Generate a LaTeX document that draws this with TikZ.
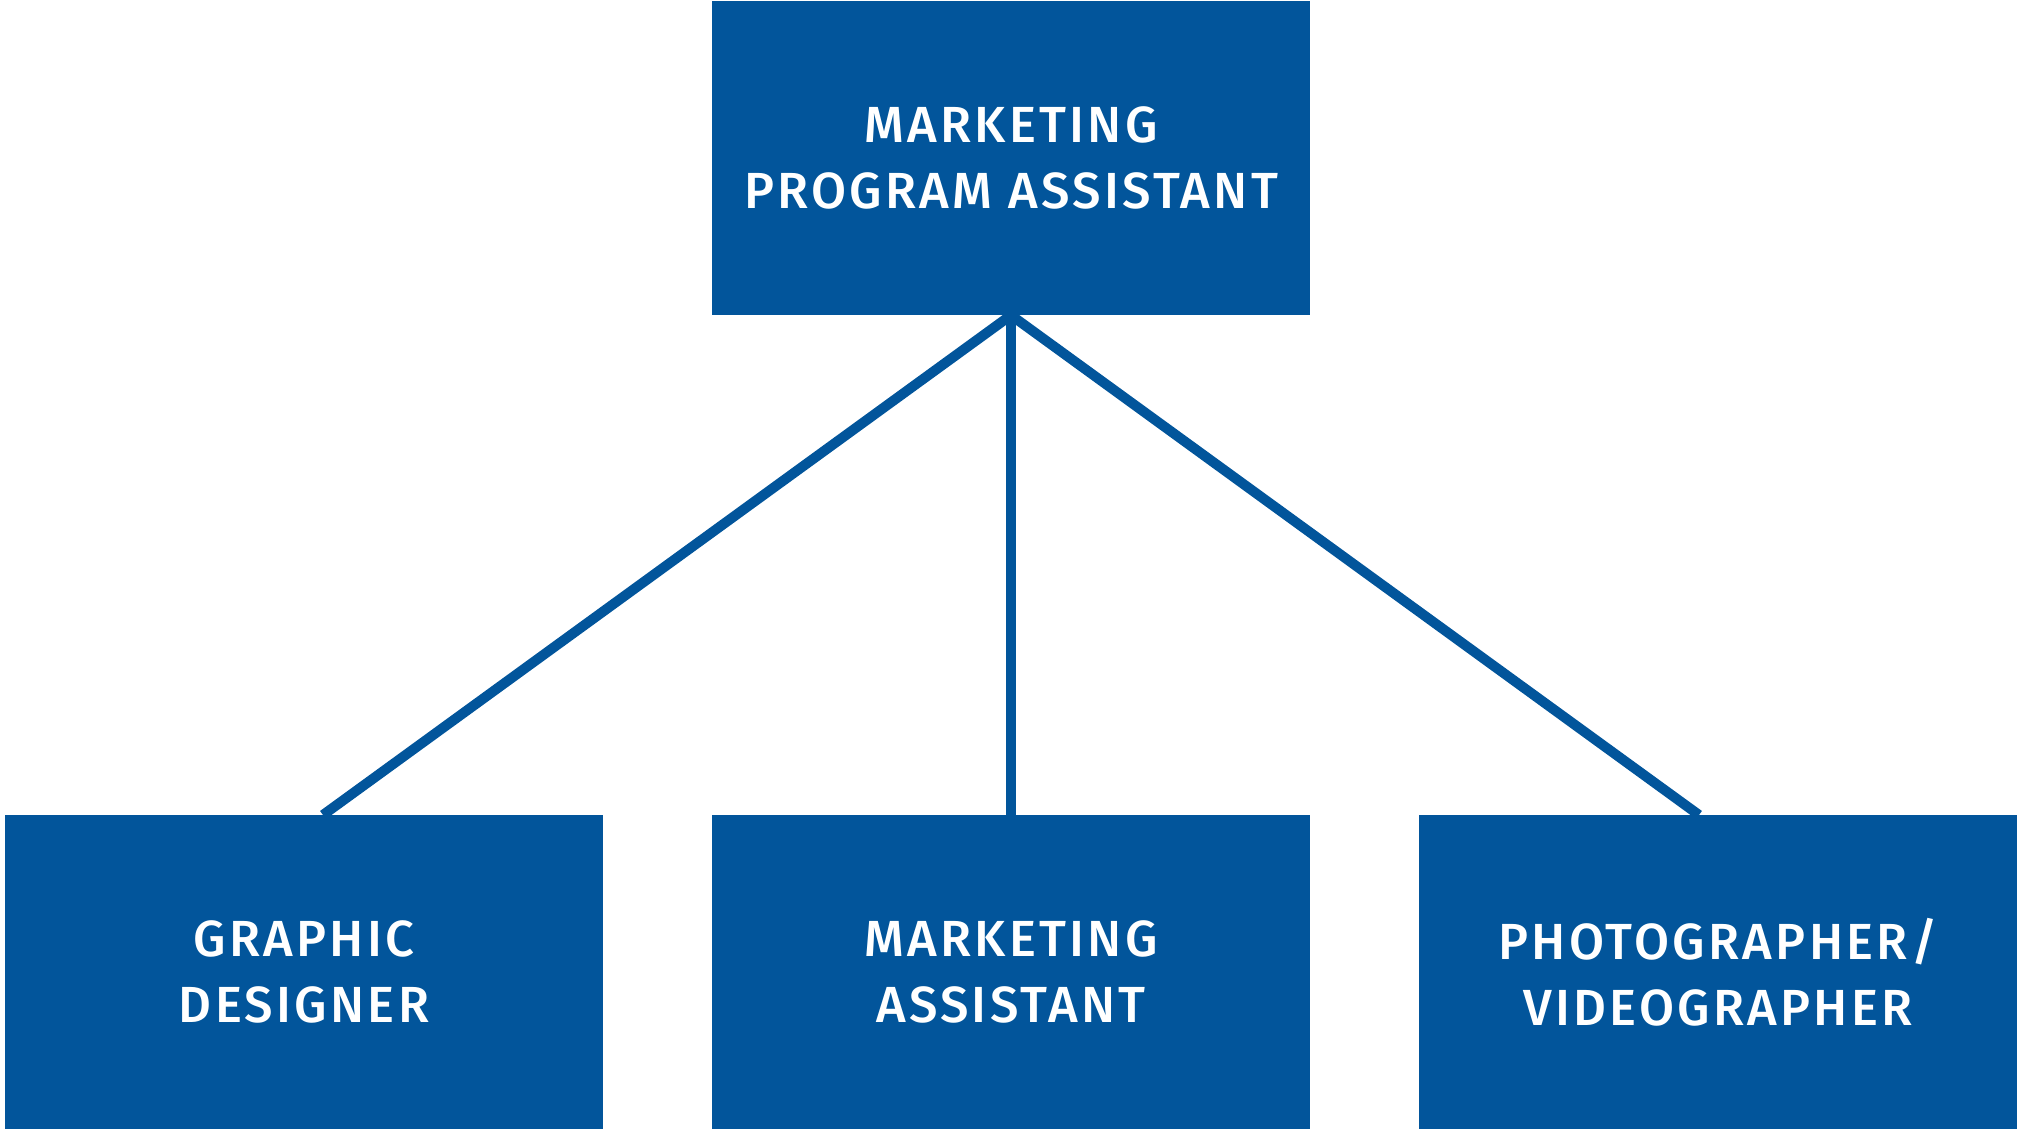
\documentclass[tikz,border=0pt]{standalone}
\usepackage{fontspec}
\newfontfamily\labfont{Fira Sans Medium}[LetterSpace=6.5]
\usetikzlibrary{backgrounds,calc}
\definecolor{orgblue}{HTML}{02559B}
\tikzset{
  box/.style={fill=orgblue, draw=none, minimum width=598pt, minimum height=314pt,
    inner sep=0pt, text=white, align=center,
    font=\labfont\fontsize{50.8pt}{66pt}\selectfont},
  link/.style={draw=orgblue, line width=10pt}
}
\begin{document}
\begin{tikzpicture}[x=1pt,y=-1pt]
\useasboundingbox (0,0) rectangle (2019,1129);
\node[box] (top) at (1011,158) {MARKETING\\PROGRAM ASSISTANT};
\node[box] (gd) at (304,972) {GRAPHIC\\DESIGNER};
\node[box] (ma) at (1011,972) {MARKETING\\ASSISTANT};
\node[box] (pv) at (1718,972) {PHOTOGRAPHER/\\VIDEOGRAPHER};
\coordinate (gdin) at (323,815);
\coordinate (pvin) at (1699,815);
\begin{scope}[on background layer]
\draw[link] (top.south) -- (gdin);
\draw[link] (top.south) -- (ma.north);
\draw[link] (top.south) -- (pvin);
\end{scope}
\end{tikzpicture}
\end{document}
